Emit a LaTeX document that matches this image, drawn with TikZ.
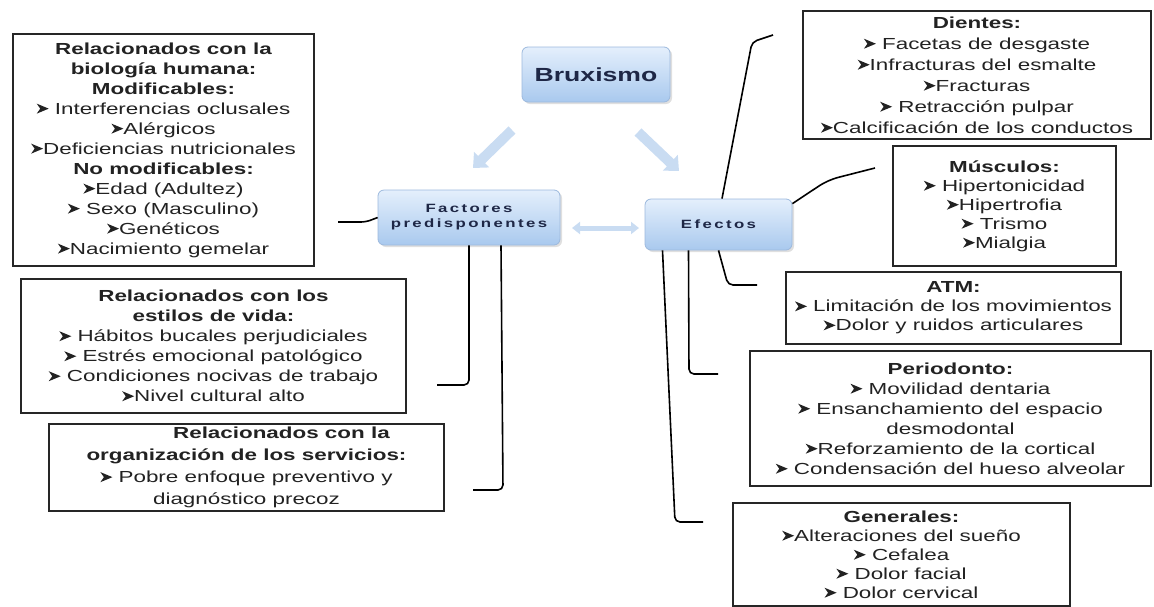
\documentclass[tikz,border=0pt]{standalone}
\usepackage{fontspec}
\setmainfont{Liberation Sans}[FakeStretch=1.4]
\newfontfamily\headfont{Liberation Sans}[FakeStretch=1.4,LetterSpace=20]
\usetikzlibrary{arrows.meta,shadows}
\definecolor{txt}{HTML}{222222}
\definecolor{bluetop}{HTML}{E4EFFC}
\definecolor{bluebot}{HTML}{A9C9EE}
\definecolor{blueedge}{HTML}{9DB9DD}
\definecolor{arrowblue}{HTML}{C9DCF2}
\definecolor{navy}{HTML}{1E2746}
\newcommand\bl{\tikz[baseline=0pt,x=1pt,y=1pt]{\fill[txt] (0,0.5) -- (12,5.5) -- (0,10.5) -- (3.5,5.5) -- cycle;}}
\tikzset{
  box/.style={draw=black!85, line width=2pt, fill=white, align=center, inner sep=1pt,
    text=txt, anchor=north west},
  topic/.style={rounded corners=6pt, top color=bluetop, bottom color=bluebot, draw=blueedge,
    line width=0.8pt, align=center, inner sep=0pt, text=navy,
    drop shadow={opacity=0.25, shadow xshift=2pt, shadow yshift=-2pt}},
  conn/.style={draw=black, line width=1.6pt, rounded corners=5pt},
  bigarrow/.style={draw=arrowblue, line width=10pt, -{Triangle[width=21pt,length=12pt]}},
  dblarrow/.style={draw=arrowblue, line width=5pt, {Triangle[width=12pt,length=8pt]}-{Triangle[width=12pt,length=8pt]}},
}
\newcommand\fs[1]{\fontsize{16}{#1}\selectfont}
\begin{document}
\begin{tikzpicture}[x=1pt,y=-1pt]
\useasboundingbox (0,0) rectangle (1154,606);

% central topics
\node[topic, minimum width=148pt, minimum height=55pt, font=\fontsize{19}{22}\selectfont\bfseries] (brux) at (596,74.5) {Bruxismo};
\node[topic, minimum width=182pt, minimum height=55pt, font=\headfont\bfseries\fontsize{12}{15}\selectfont] (fact) at (469,217.5) {Factores\\predisponentes};
\node[topic, minimum width=147pt, minimum height=51pt, font=\headfont\bfseries\fontsize{12}{15}\selectfont] (efe) at (718.5,224.5) {Efectos};

% left boxes
\node[box, minimum width=301pt, minimum height=232pt, font=\fs{20}] (bio) at (12,33)
 {\textbf{Relacionados con la}\\ \textbf{biología humana:}\\ \textbf{Modificables:}\\
  \bl\ Interferencias oclusales\\ \bl Alérgicos\\ \bl Deficiencias nutricionales\\
  \textbf{No modificables:}\\ \bl Edad (Adultez)\\ \bl\ Sexo (Masculino)\\ \bl Genéticos\\
  \bl Nacimiento gemelar};
\node[box, minimum width=385pt, minimum height=134pt, font=\fs{20}] (vida) at (20,278)
 {\textbf{Relacionados con los}\\ \textbf{estilos de vida:}\\ \bl\ Hábitos bucales perjudiciales\\
  \bl\ Estrés emocional patológico\\ \bl\ Condiciones nocivas de trabajo\\ \bl Nivel cultural alto};
\node[box, minimum width=395pt, minimum height=87pt, font=\fs{22}] (org) at (48,423)
 {\hspace*{70pt}\textbf{Relacionados con la}\\ \textbf{organización de los servicios:}\\
  \bl\ Pobre enfoque preventivo y\\ diagnóstico precoz};

% right boxes
\node[box, minimum width=348pt, minimum height=128pt, font=\fs{21}] (dien) at (802,10)
 {\textbf{Dientes:}\\ \bl\ Facetas de desgaste\\ \bl Infracturas del esmalte\\ \bl Fracturas\\
  \bl\ Retracción pulpar\\ \bl Calcificación de los conductos};
\node[box, minimum width=223pt, minimum height=120pt, font=\fs{19}] (musc) at (892,145)
 {\textbf{Músculos:}\\ \bl\ Hipertonicidad\\ \bl Hipertrofia\\ \bl\ Trismo\\ \bl Mialgia};
\node[box, minimum width=335pt, minimum height=72pt, font=\fs{19}] (atm) at (785,271)
 {\textbf{ATM:}\\ \bl\ Limitación de los movimientos\\ \bl Dolor y ruidos articulares};
\node[box, minimum width=401pt, minimum height=135pt, font=\fs{20}] (perio) at (749,350)
 {\textbf{Periodonto:}\\ \bl\ Movilidad dentaria\\ \bl\ Ensanchamiento del espacio\\ desmodontal\\
  \bl Reforzamiento de la cortical\\ \bl\ Condensación del hueso alveolar};
\node[box, minimum width=337pt, minimum height=103pt, font=\fs{19}] (gen) at (732,502)
 {\textbf{Generales:}\\ \bl Alteraciones del sueño\\ \bl\ Cefalea\\ \bl\ Dolor facial\\ \bl\ Dolor cervical};

% free ends of connectors
\coordinate (c1) at (338,222);
\coordinate (c2) at (437,385);
\coordinate (c3) at (473,490);
\coordinate (c4) at (773,35);
\coordinate (c5) at (875,168);
\coordinate (c6) at (757,285);
\coordinate (c7) at (718,374);
\coordinate (c8) at (703,522);

\draw[conn] (fact.west) -- (366,222) -- (c1);
\draw[conn] (fact.south) |- (c2);
\draw[conn] ([xshift=32pt]fact.south) -- (503,490) -- (c3);
\draw[conn] ([xshift=3.5pt]efe.north) -- (752,42) -- (c4);
\draw[conn, rounded corners=10pt] ([yshift=-5pt]efe.north east) -- (828,180) -- (c5);
\draw[conn] (efe.south) -- (728,285) -- (c6);
\draw[conn] ([xshift=-30pt]efe.south) -- (689,374) -- (c7);
\draw[conn] ([xshift=-56pt]efe.south) -- (675,522) -- (c8);

% block arrows
\coordinate (a1s) at (512,130);
\coordinate (a1e) at (473,168);
\coordinate (a2s) at (638,132);
\coordinate (a2e) at (679,171);
\coordinate (a3s) at (572,228);
\coordinate (a3e) at (639,228);
\draw[bigarrow] (a1s) -- (a1e);
\draw[bigarrow] (a2s) -- (a2e);
\draw[dblarrow] (a3s) -- (a3e);
\end{tikzpicture}
\end{document}
